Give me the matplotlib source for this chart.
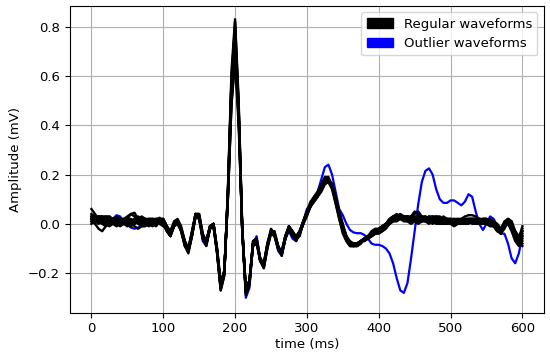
import numpy as np
import matplotlib
matplotlib.use("Agg")
import matplotlib.pyplot as plt
from matplotlib.patches import Patch

time_ms = list(range(0, 601, 5))

regular_waveforms = [
    [0.02, 0.02, 0.02, 0.015, 0.01, 0.01, 0.01, 0.01, 0.01, 0.005,
     0.01, 0.01, 0.01, 0.005, 0.005, 0.01, 0.01, 0.01, 0.0, 0.02,
     0.01, -0.02, -0.04, 0.0, 0.01, -0.02, -0.08, -0.11, -0.04, 0.04,
     0.03, -0.06, -0.07, -0.01, -0.01, -0.12, -0.26, -0.20, 0.12, 0.58,
     0.82, 0.48, -0.02, -0.28, -0.24, -0.08, -0.07, -0.15, -0.17, -0.09,
     -0.03, -0.04, -0.10, -0.12, -0.05, -0.01, -0.04, -0.06, -0.04, 0.0,
     0.04, 0.08, 0.10, 0.12, 0.15, 0.18, 0.185, 0.16, 0.10, 0.04,
     -0.02, -0.06, -0.08, -0.09, -0.09, -0.07, -0.06, -0.055, -0.05, -0.04,
     -0.03, -0.02, -0.005, 0.01, 0.02, 0.03, 0.03, 0.025, 0.02, 0.02,
     0.02, 0.02, 0.02, 0.02, 0.015, 0.02, 0.02, 0.01, 0.01, 0.01,
     0.0, 0.0, 0.01, 0.01, 0.01, 0.01, 0.01, 0.01, 0.01, 0.01,
     0.01, 0.0, 0.0, -0.02, -0.04, 0.0, 0.01, -0.02, -0.06, -0.08,
     -0.05],
    [0.06, 0.04, 0.02, 0.0, -0.01, 0.0, 0.02, 0.03, 0.02, 0.0,
     -0.01, 0.0, 0.02, 0.03, 0.02, 0.0, -0.01, 0.0, 0.02, 0.01,
     0.0, -0.03, -0.05, -0.01, 0.01, -0.03, -0.09, -0.12, -0.05, 0.03,
     0.03, -0.05, -0.08, -0.02, 0.0, -0.12, -0.27, -0.21, 0.14, 0.62,
     0.83, 0.50, -0.01, -0.29, -0.25, -0.08, -0.06, -0.15, -0.18, -0.10,
     -0.03, -0.03, -0.09, -0.12, -0.06, -0.01, -0.03, -0.06, -0.05, 0.01,
     0.05, 0.08, 0.11, 0.13, 0.16, 0.19, 0.19, 0.15, 0.09, 0.02,
     -0.04, -0.07, -0.09, -0.09, -0.08, -0.07, -0.06, -0.05, -0.03, -0.02,
     -0.02, -0.01, 0.0, 0.01, 0.02, 0.03, 0.04, 0.03, 0.01, 0.0,
     0.01, 0.03, 0.03, 0.02, 0.01, 0.0, 0.01, 0.02, 0.03, 0.02,
     0.01, 0.0, 0.0, 0.01, 0.02, 0.02, 0.01, 0.0, 0.0, 0.01,
     0.02, 0.01, -0.01, -0.03, -0.02, 0.01, 0.02, -0.01, -0.05, -0.07,
     -0.03],
    [0.01, 0.0, -0.02, -0.03, -0.01, 0.01, 0.02, 0.02, 0.01, 0.0,
     0.0, 0.01, 0.02, 0.02, 0.01, 0.0, 0.0, 0.01, 0.0, 0.01,
     0.02, -0.01, -0.03, 0.01, 0.02, -0.01, -0.07, -0.10, -0.04, 0.03,
     0.02, -0.05, -0.07, -0.01, 0.0, -0.10, -0.24, -0.19, 0.10, 0.48,
     0.66, 0.40, -0.03, -0.26, -0.23, -0.09, -0.08, -0.14, -0.16, -0.09,
     -0.04, -0.05, -0.10, -0.11, -0.05, -0.02, -0.04, -0.05, -0.03, 0.01,
     0.04, 0.07, 0.09, 0.11, 0.13, 0.16, 0.17, 0.15, 0.10, 0.05,
     -0.01, -0.05, -0.07, -0.08, -0.08, -0.07, -0.06, -0.05, -0.04, -0.03,
     -0.03, -0.03, -0.02, 0.0, 0.01, 0.01, 0.02, 0.03, 0.03, 0.02,
     0.01, 0.0, 0.01, 0.02, 0.03, 0.02, 0.01, 0.0, 0.0, 0.01,
     0.02, 0.02, 0.01, 0.0, 0.0, 0.01, 0.02, 0.02, 0.01, 0.0,
     0.0, 0.01, 0.01, -0.01, -0.03, -0.01, 0.0, -0.03, -0.07, -0.09,
     -0.07],
    [0.03, 0.03, 0.03, 0.02, 0.0, -0.01, 0.0, 0.01, 0.02, 0.02,
     0.03, 0.04, 0.03, 0.01, -0.01, -0.01, 0.0, 0.02, 0.02, 0.0,
     -0.01, -0.02, -0.03, 0.0, 0.0, -0.03, -0.08, -0.10, -0.03, 0.04,
     0.04, -0.04, -0.08, -0.02, -0.01, -0.11, -0.25, -0.20, 0.12, 0.55,
     0.75, 0.45, -0.03, -0.27, -0.24, -0.07, -0.06, -0.14, -0.17, -0.08,
     -0.02, -0.04, -0.10, -0.13, -0.06, -0.02, -0.05, -0.07, -0.04, 0.0,
     0.03, 0.07, 0.10, 0.12, 0.14, 0.17, 0.18, 0.16, 0.11, 0.05,
     -0.01, -0.05, -0.08, -0.09, -0.09, -0.08, -0.06, -0.05, -0.05, -0.04,
     -0.04, -0.03, -0.01, 0.01, 0.03, 0.04, 0.03, 0.02, 0.02, 0.03,
     0.04, 0.05, 0.03, 0.01, 0.0, 0.01, 0.02, 0.02, 0.01, 0.0,
     0.0, 0.01, 0.02, 0.02, 0.02, 0.01, 0.0, 0.0, 0.01, 0.02,
     0.02, 0.01, 0.0, -0.02, -0.03, -0.01, 0.02, 0.01, -0.04, -0.08,
     -0.09],
    [0.0, 0.02, 0.03, 0.03, 0.02, 0.01, 0.0, 0.0, 0.01, 0.02,
     0.02, 0.01, -0.01, -0.02, -0.01, 0.01, 0.02, 0.02, 0.01, 0.02,
     0.02, -0.01, -0.04, -0.01, 0.01, -0.02, -0.07, -0.11, -0.05, 0.03,
     0.03, -0.05, -0.08, -0.01, 0.0, -0.11, -0.25, -0.20, 0.10, 0.50,
     0.70, 0.43, -0.02, -0.27, -0.23, -0.08, -0.07, -0.15, -0.16, -0.08,
     -0.03, -0.04, -0.09, -0.12, -0.06, -0.01, -0.04, -0.06, -0.03, 0.01,
     0.05, 0.08, 0.10, 0.12, 0.15, 0.17, 0.17, 0.15, 0.10, 0.04,
     -0.02, -0.06, -0.08, -0.08, -0.08, -0.07, -0.07, -0.06, -0.05, -0.04,
     -0.03, -0.02, -0.01, 0.0, 0.01, 0.02, 0.02, 0.02, 0.03, 0.03,
     0.02, 0.01, 0.01, 0.02, 0.03, 0.03, 0.02, 0.01, 0.0, 0.0,
     0.01, 0.01, 0.0, 0.0, 0.01, 0.02, 0.02, 0.01, 0.0, 0.0,
     0.01, 0.02, 0.01, -0.01, -0.04, -0.02, 0.01, -0.01, -0.05, -0.06,
     -0.02],
    [0.02, 0.01, 0.0, 0.01, 0.02, 0.03, 0.02, 0.0, -0.01, 0.0,
     0.02, 0.04, 0.045, 0.02, 0.0, 0.0, 0.01, 0.01, 0.0, 0.01,
     0.01, -0.02, -0.05, -0.01, 0.0, -0.02, -0.08, -0.11, -0.04, 0.04,
     0.03, -0.06, -0.09, -0.02, -0.01, -0.12, -0.27, -0.21, 0.13, 0.57,
     0.78, 0.47, -0.02, -0.28, -0.24, -0.07, -0.06, -0.15, -0.18, -0.10,
     -0.04, -0.04, -0.10, -0.12, -0.05, -0.02, -0.05, -0.06, -0.03, 0.01,
     0.04, 0.07, 0.09, 0.11, 0.15, 0.18, 0.18, 0.15, 0.09, 0.03,
     -0.03, -0.07, -0.09, -0.09, -0.08, -0.07, -0.07, -0.06, -0.05, -0.03,
     -0.02, -0.01, 0.0, 0.02, 0.03, 0.03, 0.02, 0.01, 0.01, 0.02,
     0.03, 0.03, 0.02, 0.01, 0.01, 0.02, 0.03, 0.03, 0.02, 0.01,
     0.0, -0.01, 0.0, 0.01, 0.02, 0.02, 0.02, 0.02, 0.01, 0.01,
     0.0, -0.01, -0.01, -0.03, -0.04, 0.0, 0.02, 0.0, -0.04, -0.07,
     -0.06],
    [0.04, 0.03, 0.01, 0.0, 0.0, 0.01, 0.01, 0.02, 0.02, 0.01,
     0.0, -0.01, 0.0, 0.01, 0.02, 0.02, 0.01, 0.0, 0.0, 0.02,
     0.01, -0.02, -0.04, 0.0, 0.01, -0.02, -0.08, -0.11, -0.04, 0.04,
     0.03, -0.05, -0.08, -0.02, -0.01, -0.11, -0.26, -0.20, 0.13, 0.59,
     0.80, 0.47, -0.02, -0.28, -0.24, -0.08, -0.07, -0.15, -0.17, -0.09,
     -0.03, -0.04, -0.10, -0.12, -0.05, -0.01, -0.04, -0.06, -0.04, 0.0,
     0.05, 0.09, 0.11, 0.13, 0.16, 0.18, 0.18, 0.16, 0.10, 0.03,
     -0.03, -0.06, -0.08, -0.09, -0.08, -0.07, -0.06, -0.05, -0.04, -0.03,
     -0.02, -0.01, 0.0, 0.01, 0.02, 0.02, 0.02, 0.02, 0.02, 0.03,
     0.05, 0.04, 0.02, 0.01, 0.02, 0.02, 0.01, 0.01, 0.01, 0.02,
     0.02, 0.01, 0.01, 0.02, 0.03, 0.035, 0.035, 0.03, 0.02, 0.01,
     0.0, 0.0, 0.01, 0.0, -0.02, 0.0, 0.01, -0.02, -0.05, -0.08,
     -0.04],
    [0.02, 0.02, 0.03, 0.03, 0.03, 0.02, 0.0, -0.01, 0.0, 0.01,
     0.01, 0.0, 0.0, 0.01, 0.02, 0.02, 0.02, 0.0, -0.01, 0.01,
     0.0, -0.03, -0.05, -0.01, 0.0, -0.03, -0.09, -0.11, -0.04, 0.03,
     0.02, -0.06, -0.08, -0.02, 0.0, -0.11, -0.25, -0.19, 0.11, 0.52,
     0.72, 0.44, -0.03, -0.27, -0.23, -0.08, -0.07, -0.14, -0.16, -0.08,
     -0.03, -0.05, -0.10, -0.11, -0.05, -0.01, -0.03, -0.05, -0.03, 0.01,
     0.04, 0.07, 0.10, 0.12, 0.15, 0.17, 0.18, 0.16, 0.11, 0.05,
     0.0, -0.05, -0.08, -0.09, -0.09, -0.08, -0.06, -0.05, -0.04, -0.04,
     -0.03, -0.02, -0.01, 0.0, 0.02, 0.03, 0.03, 0.03, 0.02, 0.01,
     0.01, 0.02, 0.03, 0.03, 0.02, 0.01, 0.0, 0.0, 0.01, 0.02,
     0.02, 0.01, 0.0, 0.0, 0.01, 0.01, 0.02, 0.02, 0.02, 0.01,
     0.0, 0.0, 0.0, -0.02, -0.03, -0.01, 0.01, 0.0, -0.03, -0.06,
     -0.08],
    [0.03, 0.02, 0.01, 0.02, 0.03, 0.03, 0.01, 0.0, 0.0, 0.01,
     0.02, 0.02, 0.01, 0.0, 0.0, 0.01, 0.02, 0.02, 0.01, 0.02,
     0.01, -0.01, -0.03, 0.0, 0.01, -0.02, -0.07, -0.10, -0.04, 0.04,
     0.04, -0.04, -0.07, -0.01, 0.0, -0.10, -0.24, -0.19, 0.10, 0.49,
     0.68, 0.42, -0.02, -0.27, -0.23, -0.09, -0.08, -0.15, -0.17, -0.09,
     -0.03, -0.04, -0.09, -0.12, -0.06, -0.02, -0.04, -0.06, -0.04, 0.0,
     0.04, 0.08, 0.10, 0.12, 0.15, 0.17, 0.17, 0.14, 0.08, 0.02,
     -0.03, -0.06, -0.08, -0.08, -0.08, -0.07, -0.06, -0.06, -0.05, -0.04,
     -0.03, -0.01, 0.0, 0.02, 0.03, 0.03, 0.02, 0.02, 0.02, 0.02,
     0.02, 0.02, 0.01, 0.01, 0.02, 0.03, 0.03, 0.02, 0.01, 0.01,
     0.01, 0.02, 0.02, 0.01, 0.0, 0.0, 0.01, 0.01, 0.02, 0.02,
     0.02, 0.0, -0.01, -0.02, -0.03, 0.0, 0.01, 0.0, -0.04, -0.06,
     -0.01],
    [0.01, 0.02, 0.02, 0.01, 0.0, 0.0, 0.01, 0.02, 0.02, 0.01,
     0.0, 0.0, 0.01, 0.02, 0.03, 0.02, 0.0, -0.01, 0.0, 0.02,
     0.02, -0.01, -0.04, 0.0, 0.01, -0.02, -0.08, -0.11, -0.05, 0.03,
     0.03, -0.05, -0.08, -0.01, 0.0, -0.11, -0.26, -0.20, 0.12, 0.56,
     0.76, 0.46, -0.03, -0.28, -0.24, -0.08, -0.07, -0.15, -0.17, -0.09,
     -0.03, -0.04, -0.10, -0.12, -0.06, -0.02, -0.04, -0.06, -0.03, 0.01,
     0.05, 0.08, 0.10, 0.12, 0.15, 0.18, 0.18, 0.15, 0.10, 0.04,
     -0.02, -0.06, -0.09, -0.09, -0.08, -0.07, -0.06, -0.05, -0.04, -0.04,
     -0.03, -0.02, -0.01, 0.0, 0.02, 0.02, 0.03, 0.03, 0.03, 0.02,
     0.02, 0.02, 0.02, 0.03, 0.02, 0.01, 0.01, 0.02, 0.02, 0.02,
     0.01, 0.0, 0.0, 0.01, 0.01, 0.02, 0.02, 0.01, 0.01, 0.02,
     0.02, 0.01, 0.0, -0.02, -0.03, 0.0, 0.02, 0.01, -0.03, -0.05,
     -0.03],
]

outlier_waveform = [
    0.02, 0.02, 0.01, 0.01, 0.005, 0.01, 0.02, 0.035, 0.03, 0.01,
    -0.005, -0.015, -0.02, -0.015, 0.0, 0.01, 0.01, 0.01, 0.02, 0.025,
    0.01, -0.02, -0.04, 0.0, 0.01, -0.03, -0.08, -0.10, -0.03, 0.04,
    0.02, -0.07, -0.09, -0.02, 0.0, -0.11, -0.26, -0.20, 0.12, 0.55,
    0.78, 0.45, -0.04, -0.30, -0.26, -0.08, -0.05, -0.14, -0.17, -0.09,
    -0.03, -0.05, -0.11, -0.13, -0.06, -0.03, -0.06, -0.07, -0.04, 0.01,
    0.06, 0.08, 0.10, 0.13, 0.18, 0.23, 0.24, 0.20, 0.13, 0.06,
    0.035, 0.0, -0.025, -0.035, -0.038, -0.038, -0.045, -0.06, -0.08, -0.085,
    -0.085, -0.09, -0.10, -0.12, -0.16, -0.22, -0.27, -0.28, -0.24, -0.14,
    -0.03, 0.08, 0.17, 0.215, 0.225, 0.20, 0.14, 0.10, 0.085, 0.085,
    0.095, 0.095, 0.085, 0.075, 0.09, 0.12, 0.11, 0.05, 0.0, -0.025,
    0.0, 0.03, 0.02, -0.01, -0.04, -0.04, -0.08, -0.14, -0.16, -0.12,
    -0.05,
]

legend_labels = ["Regular waveforms", "Outlier waveforms"]
x_label = "time (ms)"
y_label = "Amplitude (mV)"

plt.rcParams["font.size"] = 9.5

fig = plt.figure(figsize=(5.5, 3.54), dpi=100)
ax = fig.add_axes([0.127, 0.117, 0.862, 0.867])

ax.plot(time_ms, outlier_waveform, color="blue", lw=1.6)
for w in regular_waveforms:
    ax.plot(time_ms, w, color="black", lw=1.7)

ax.set_xlim(-30, 630)
ax.set_ylim(-0.36, 0.885)
ax.set_xticks([0, 100, 200, 300, 400, 500, 600])
ax.set_yticks([-0.2, 0.0, 0.2, 0.4, 0.6, 0.8])
ax.grid(True, color="#b0b0b0", lw=0.8)
ax.set_axisbelow(True)
ax.set_xlabel(x_label, labelpad=2)
ax.set_ylabel(y_label, labelpad=4)

handles = [Patch(facecolor="black", edgecolor="black"),
           Patch(facecolor="blue", edgecolor="blue")]
ax.legend(handles, legend_labels, loc="upper right", fontsize=9.5)

fig.savefig("out.png", dpi=100)
